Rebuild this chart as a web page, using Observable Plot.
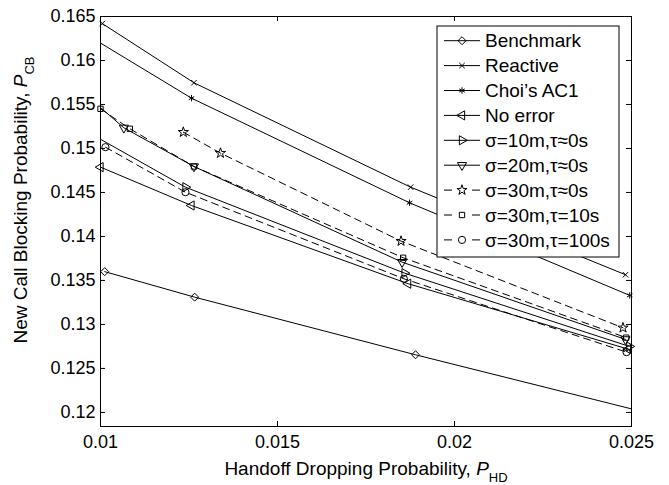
<!DOCTYPE html>
<html>
<head>
<meta charset="utf-8">
<script src="https://cdn.jsdelivr.net/npm/d3@7"></script>
<script src="https://cdn.jsdelivr.net/npm/@observablehq/plot@0.6"></script>
<style>
  body { margin: 0; background: #fff; }
  #chart { width: 669px; height: 485px; }
  svg text { font-family: "Liberation Sans", Arial, sans-serif; }
</style>
</head>
<body>
<div id="chart"></div>
<script>
// ---------- data ----------
const seriesNames = ["Benchmark", "Reactive", "Choi\u2019s AC1", "No error",
  "\u03c3=10m,\u03c4\u22480s", "\u03c3=20m,\u03c4\u22480s", "\u03c3=30m,\u03c4\u22480s",
  "\u03c3=30m,\u03c4=10s", "\u03c3=30m,\u03c4=100s"];

const benchmarkX = [0.01012, 0.01266, 0.0189, 0.0253];
const benchmarkY = [0.1360, 0.1331, 0.12655, 0.1201];
const reactiveX = [0.01005, 0.01264, 0.01876, 0.02483];
const reactiveY = [0.1642, 0.15747, 0.1456, 0.13565];
const choiX = [0.0095, 0.01257, 0.01873, 0.02495];
const choiY = [0.1632, 0.15572, 0.14383, 0.1333];
const noErrorX = [0.0100, 0.01257, 0.01869, 0.0249];
const noErrorY = [0.14788, 0.14352, 0.13463, 0.1272];
const s10X = [0.0098, 0.0124, 0.01859, 0.02494];
const s10Y = [0.1515, 0.1456, 0.13583, 0.1275];
const s20X = [0.0099, 0.01066, 0.01264, 0.01852, 0.02483];
const s20Y = [0.1550, 0.15235, 0.14795, 0.13708, 0.1283];
const s30t0X = [0.01234, 0.01339, 0.01849, 0.02476];
const s30t0Y = [0.15185, 0.14947, 0.13947, 0.12962];
const s30t10X = [0.0100, 0.01083, 0.01264, 0.01855, 0.02485];
const s30t10Y = [0.15451, 0.15224, 0.14795, 0.13758, 0.1285];
const s30t100X = [0.01014, 0.0124, 0.01857, 0.02486];
const s30t100Y = [0.15015, 0.14503, 0.13519, 0.12685];

const xTicks = [0.01, 0.015, 0.02, 0.025];
const xTickLabels = ["0.01", "0.015", "0.02", "0.025"];
const yTicks = [0.12, 0.125, 0.13, 0.135, 0.14, 0.145, 0.15, 0.155, 0.16, 0.165];
const yTickLabels = ["0.12", "0.125", "0.13", "0.135", "0.14", "0.145", "0.15", "0.155", "0.16", "0.165"];
const xDomain = [0.01, 0.025];
const yDomain = [0.1184, 0.165];

// ---------- styles ----------
const seriesXs = [benchmarkX, reactiveX, choiX, noErrorX, s10X, s20X, s30t0X, s30t10X, s30t100X];
const seriesYs = [benchmarkY, reactiveY, choiY, noErrorY, s10Y, s20Y, s30t0Y, s30t10Y, s30t100Y];
const styles = [
  {symbol: "diamond2", rotate: 0, r: 3.6, dash: null},
  {symbol: "times", rotate: 0, r: 2.6, dash: null},
  {symbol: "asterisk", rotate: 0, r: 3.0, dash: null},
  {symbol: "triangle", rotate: -90, r: 3.4, dash: null},
  {symbol: "triangle", rotate: 90, r: 3.4, dash: null},
  {symbol: "triangle", rotate: 180, r: 3.4, dash: null},
  {symbol: "star", rotate: 0, r: 3.2, dash: "7,5"},
  {symbol: "square", rotate: 0, r: 3.0, dash: "7,5"},
  {symbol: "circle", rotate: 0, r: 3.6, dash: "7,5"}
];
const d3Symbols = {diamond2: d3.symbolDiamond2, times: d3.symbolTimes, asterisk: d3.symbolAsterisk,
  triangle: d3.symbolTriangle, star: d3.symbolStar, square: d3.symbolSquare, circle: d3.symbolCircle};

const W = 669, H = 485, mL = 100, mT = 16, mR = 38, mB = 59;
const tickLen = 5;
const tx = tickLen * (xDomain[1] - xDomain[0]) / (W - mL - mR);
const ty = tickLen * (yDomain[1] - yDomain[0]) / (H - mT - mB);

const rows = seriesNames.map((name, i) => seriesXs[i].map((x, j) => ({series: name, x, y: seriesYs[i][j]})));
const inside = d => d.x >= xDomain[0] && d.x <= xDomain[1];

const marks = [];
rows.forEach((data, i) => {
  const s = styles[i];
  marks.push(Plot.line(data, {x: "x", y: "y", stroke: "black", strokeWidth: 1, clip: true,
    strokeDasharray: s.dash || undefined}));
});
rows.forEach((data, i) => {
  const s = styles[i];
  marks.push(Plot.dot(data.filter(inside), {x: "x", y: "y", symbol: s.symbol, rotate: s.rotate, r: s.r,
    stroke: "black", fill: "none", strokeWidth: 1}));
});
marks.push(
  Plot.ruleY(yTicks, {y: d => d, x1: xDomain[0], x2: xDomain[0] + tx, stroke: "black"}),
  Plot.ruleY(yTicks, {y: d => d, x1: xDomain[1] - tx, x2: xDomain[1], stroke: "black"}),
  Plot.ruleX(xTicks, {x: d => d, y1: yDomain[0], y2: yDomain[0] + ty, stroke: "black"}),
  Plot.ruleX(xTicks, {x: d => d, y1: yDomain[1] - ty, y2: yDomain[1], stroke: "black"}),
  Plot.frame({stroke: "black", strokeWidth: 1})
);

const plot = Plot.plot({
  width: W, height: H,
  marginLeft: mL, marginTop: mT, marginRight: mR, marginBottom: mB,
  style: {fontFamily: "Liberation Sans, Arial, sans-serif", fontSize: "18px", background: "white", color: "black"},
  x: {domain: xDomain, ticks: xTicks, tickFormat: d => xTickLabels[xTicks.indexOf(d)], tickSize: 0, tickPadding: 9, label: null},
  y: {domain: yDomain, ticks: yTicks, tickFormat: d => yTickLabels[yTicks.indexOf(d)], tickSize: 0, tickPadding: 5, label: null},
  marks
});

document.getElementById("chart").appendChild(plot);
const svg = d3.select(plot);

// axis labels with subscripts
const xl = svg.append("text").attr("x", 366).attr("y", 475).attr("text-anchor", "middle")
  .style("font-size", "19px").attr("fill", "black");
xl.append("tspan").text("Handoff Dropping Probability, ");
xl.append("tspan").attr("font-style", "italic").text("P");
xl.append("tspan").attr("dy", 7).style("font-size", "13px").text("HD");

const yl = svg.append("text").attr("transform", "translate(27,200) rotate(-90)").attr("text-anchor", "middle")
  .style("font-size", "19px").attr("fill", "black");
yl.append("tspan").text("New Call Blocking Probability, ");
yl.append("tspan").attr("font-style", "italic").text("P");
yl.append("tspan").attr("dy", 7).style("font-size", "13px").text("CB");

// legend
const lg = svg.append("g");
lg.append("rect").attr("x", 437).attr("y", 26).attr("width", 182).attr("height", 231)
  .attr("fill", "white").attr("stroke", "black").attr("stroke-width", 1);
seriesNames.forEach((name, i) => {
  const s = styles[i];
  const cy = 40.7 + 24.9 * i;
  lg.append("line").attr("x1", 444).attr("x2", 480).attr("y1", cy).attr("y2", cy)
    .attr("stroke", "black").attr("stroke-width", 1)
    .attr("stroke-dasharray", s.dash ? "8,20" : null);
  lg.append("path").attr("d", d3.symbol(d3Symbols[s.symbol], Math.PI * s.r * s.r)())
    .attr("transform", `translate(462,${cy}) rotate(${s.rotate})`)
    .attr("fill", "none").attr("stroke", "black").attr("stroke-width", 1);
  lg.append("text").attr("x", 485).attr("y", cy).attr("dy", "0.35em").attr("text-anchor", "start")
    .style("font-size", "19px").attr("fill", "black").text(name);
});
</script>
</body>
</html>
